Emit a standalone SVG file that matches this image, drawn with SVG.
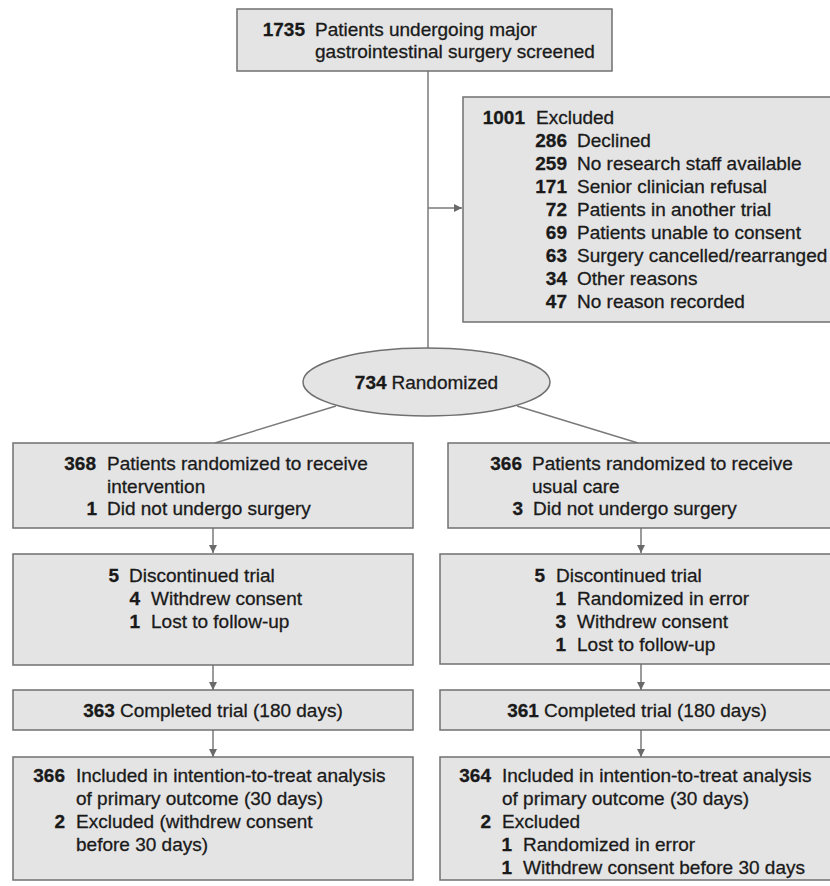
<svg xmlns="http://www.w3.org/2000/svg" width="830" height="886" viewBox="0 0 830 886">
<defs>
<style>
.box{fill:#e4e4e4;stroke:#707070;stroke-width:1.5}
.ln{fill:none;stroke:#7a7a7a;stroke-width:1.5}
text{font-family:"Liberation Sans",Arial,sans-serif;font-size:19px;fill:#1a1a1a;stroke:#1a1a1a;stroke-width:0.3}
.n{font-weight:bold;text-anchor:end}
.c{text-anchor:middle}
</style>
<marker id="ah" viewBox="0 0 10 10" refX="10" refY="5" markerWidth="8" markerHeight="8" markerUnits="userSpaceOnUse" orient="auto">
<path d="M0,0 L10,5 L0,10 Z" fill="#6a6a6a"/>
</marker>
</defs>
<rect width="830" height="886" fill="#ffffff"/>

<g id="connectors">
<line class="ln" x1="428" y1="71" x2="428" y2="348"/>
<line class="ln" x1="428" y1="208" x2="462" y2="208" marker-end="url(#ah)"/>
<line class="ln" x1="336" y1="406" x2="215" y2="443"/>
<line class="ln" x1="517" y1="406" x2="638" y2="443"/>
<line class="ln" x1="213" y1="528" x2="213" y2="553" marker-end="url(#ah)"/>
<line class="ln" x1="641" y1="528" x2="641" y2="553" marker-end="url(#ah)"/>
<line class="ln" x1="213" y1="665" x2="213" y2="690" marker-end="url(#ah)"/>
<line class="ln" x1="641" y1="664" x2="641" y2="690" marker-end="url(#ah)"/>
<line class="ln" x1="213" y1="730" x2="213" y2="757" marker-end="url(#ah)"/>
<line class="ln" x1="641" y1="730" x2="641" y2="757" marker-end="url(#ah)"/>
</g>

<g id="screened">
<rect class="box" x="237" y="9" width="375" height="62"/>
<text class="n" x="305" y="36">1735</text>
<text x="315" y="36">Patients undergoing major</text>
<text x="315" y="58">gastrointestinal surgery screened</text>
</g>

<g id="excluded">
<rect class="box" x="463" y="97" width="372" height="225"/>
<text class="n" x="525" y="124">1001</text>
<text x="536" y="124">Excluded</text>
<text class="n" x="567" y="147">286</text>
<text x="577" y="147">Declined</text>
<text class="n" x="567" y="170">259</text>
<text x="577" y="170">No research staff available</text>
<text class="n" x="567" y="193">171</text>
<text x="577" y="193">Senior clinician refusal</text>
<text class="n" x="567" y="216">72</text>
<text x="577" y="216">Patients in another trial</text>
<text class="n" x="567" y="239">69</text>
<text x="577" y="239">Patients unable to consent</text>
<text class="n" x="567" y="262">63</text>
<text x="577" y="262">Surgery cancelled/rearranged</text>
<text class="n" x="567" y="285">34</text>
<text x="577" y="285">Other reasons</text>
<text class="n" x="567" y="308">47</text>
<text x="577" y="308">No reason recorded</text>
</g>

<g id="randomized">
<ellipse cx="426.5" cy="382" rx="123.5" ry="34" fill="#e4e4e4" stroke="#707070" stroke-width="1.5"/>
<text class="c" x="426.5" y="389"><tspan font-weight="bold">734</tspan><tspan dx="5">Randomized</tspan></text>
</g>

<g id="intervention">
<rect class="box" x="13" y="443" width="400" height="85"/>
<text class="n" x="96" y="470">368</text>
<text x="107" y="470">Patients randomized to receive</text>
<text x="107" y="492.5">intervention</text>
<text class="n" x="97" y="515">1</text>
<text x="107" y="515">Did not undergo surgery</text>
</g>

<g id="usualcare">
<rect class="box" x="448" y="443" width="387" height="85"/>
<text class="n" x="522" y="470">366</text>
<text x="532" y="470">Patients randomized to receive</text>
<text x="532" y="492.5">usual care</text>
<text class="n" x="523" y="515">3</text>
<text x="533" y="515">Did not undergo surgery</text>
</g>

<g id="disc-left">
<rect class="box" x="13" y="554" width="400" height="111"/>
<text class="n" x="119" y="582">5</text>
<text x="129" y="582">Discontinued trial</text>
<text class="n" x="140" y="605">4</text>
<text x="151" y="605">Withdrew consent</text>
<text class="n" x="140" y="628">1</text>
<text x="151" y="628">Lost to follow-up</text>
</g>

<g id="disc-right">
<rect class="box" x="440" y="554" width="395" height="110"/>
<text class="n" x="545" y="582">5</text>
<text x="556" y="582">Discontinued trial</text>
<text class="n" x="566" y="605">1</text>
<text x="577" y="605">Randomized in error</text>
<text class="n" x="566" y="628">3</text>
<text x="577" y="628">Withdrew consent</text>
<text class="n" x="566" y="651">1</text>
<text x="577" y="651">Lost to follow-up</text>
</g>

<g id="completed-left">
<rect class="box" x="13" y="690" width="400" height="40"/>
<text class="c" x="213" y="717"><tspan font-weight="bold">363</tspan><tspan dx="5">Completed trial (180 days)</tspan></text>
</g>

<g id="completed-right">
<rect class="box" x="440" y="690" width="395" height="40"/>
<text class="c" x="637" y="717"><tspan font-weight="bold">361</tspan><tspan dx="5">Completed trial (180 days)</tspan></text>
</g>

<g id="itt-left">
<rect class="box" x="13" y="757" width="400" height="123"/>
<text class="n" x="65" y="782">366</text>
<text x="76" y="782">Included in intention-to-treat analysis</text>
<text x="76" y="805">of primary outcome (30 days)</text>
<text class="n" x="65" y="828">2</text>
<text x="76" y="828">Excluded (withdrew consent</text>
<text x="76" y="851">before 30 days)</text>
</g>

<g id="itt-right">
<rect class="box" x="440" y="757" width="395" height="123"/>
<text class="n" x="491" y="782">364</text>
<text x="502" y="782">Included in intention-to-treat analysis</text>
<text x="502" y="805">of primary outcome (30 days)</text>
<text class="n" x="491" y="828">2</text>
<text x="502" y="828">Excluded</text>
<text class="n" x="512" y="851">1</text>
<text x="523" y="851">Randomized in error</text>
<text class="n" x="512" y="874">1</text>
<text x="523" y="874">Withdrew consent before 30 days</text>
</g>
</svg>
